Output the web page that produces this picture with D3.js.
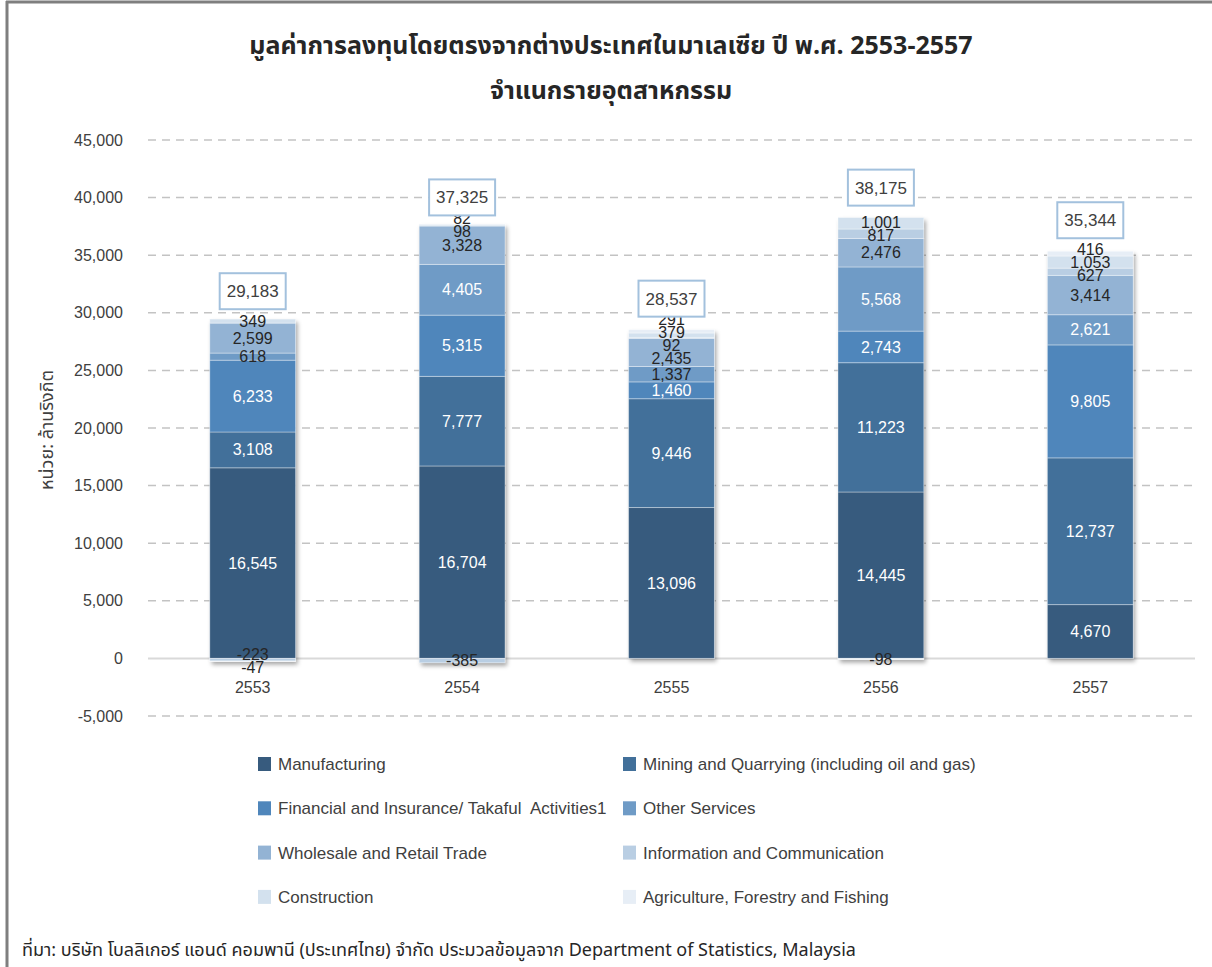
<!DOCTYPE html>
<html>
<head>
<meta charset="utf-8">
<script src="https://cdn.jsdelivr.net/npm/d3@7"></script>
<style>
    body { margin: 0; background: #fff; }
    svg { display: block; font-family: "Liberation Sans", Arial, sans-serif; }
</style>
</head>
<body>
<div id="chart"></div>
<script>
// data (ล้านริงกิต)
const years = ["2553", "2554", "2555", "2556", "2557"];
const seriesNames = [
    "Manufacturing",
    "Mining and Quarrying (including oil and gas)",
    "Financial and Insurance/ Takaful  Activities1",
    "Other Services",
    "Wholesale and Retail Trade",
    "Information and Communication",
    "Construction",
    "Agriculture, Forestry and Fishing"
];
const manufacturing = [16545, 16704, 13096, 14445, 4670];
const mining = [3108, 7777, 9446, 11223, 12737];
const financial = [6233, 5315, 1460, 2743, 9805];
const otherServices = [618, 4405, 1337, 5568, 2621];
const wholesale = [2599, 3328, 2435, 2476, 3414];
const information = [-223, -385, 92, 817, 627];
const construction = [349, 98, 379, 1001, 1053];
const agriculture = [-47, 82, 291, -98, 416];
const totals = [29183, 37325, 28537, 38175, 35344];
const yTicks = [-5000, 0, 5000, 10000, 15000, 20000, 25000, 30000, 35000, 40000, 45000];

const allSeries = [manufacturing, mining, financial, otherServices, wholesale, information, construction, agriculture];
const colors = ["#375b7e", "#42709a", "#4f86bb", "#6f9bc6", "#93b3d4", "#b9cee3", "#d3e1ee", "#e7eef6"];

const width = 1212, height = 967;
const fmt = d3.formatLocale({ decimal: ".", thousands: ",", grouping: [3], currency: ["", ""], minus: "-" }).format(",");

const svg = d3.select("#chart")
    .append("svg")
    .attr("width", width)
    .attr("height", height);

svg.append("rect").attr("width", width).attr("height", height).attr("fill", "#fff");

// frame lines (top + left)
svg.append("line").attr("x1", 6).attr("x2", width).attr("y1", 2).attr("y2", 2)
    .attr("stroke", "#7f7f7f").attr("stroke-width", 3);
svg.append("line").attr("x1", 7).attr("x2", 7).attr("y1", 1).attr("y2", height)
    .attr("stroke", "#7f7f7f").attr("stroke-width", 3);

const defs = svg.append("defs");
const shadow = defs.append("filter").attr("id", "shadow")
    .attr("x", "-10%").attr("y", "-10%").attr("width", "130%").attr("height", "130%");
shadow.append("feDropShadow")
    .attr("dx", 2).attr("dy", 3).attr("stdDeviation", 2)
    .attr("flood-color", "#000").attr("flood-opacity", 0.35);

const thaiFont = "'Noto Sans Thai', 'Noto Sans', 'Liberation Sans', sans-serif";
const latinFont = "'Liberation Sans', Arial, sans-serif";

// titles
svg.append("text")
    .attr("x", 611).attr("y", 54)
    .attr("text-anchor", "middle")
    .style("font-family", thaiFont)
    .style("font-size", "25px").style("font-weight", "bold").style("fill", "#262626")
    .text("มูลค่าการลงทุนโดยตรงจากต่างประเทศในมาเลเซีย ปี พ.ศ. 2553-2557");
svg.append("text")
    .attr("x", 611).attr("y", 99)
    .attr("text-anchor", "middle")
    .style("font-family", thaiFont)
    .style("font-size", "25px").style("font-weight", "bold").style("fill", "#262626")
    .text("จำแนกรายอุตสาหกรรม");

const x = d3.scaleBand()
    .domain(years)
    .range([148, 1195])
    .paddingInner(0.59)
    .paddingOuter(0.295);

const y = d3.scaleLinear()
    .domain([-5000, 45000])
    .range([716, 140]);

// gridlines
svg.append("g")
    .selectAll("line")
    .data(yTicks)
    .enter()
    .append("line")
    .attr("x1", 148).attr("x2", 1195)
    .attr("y1", d => y(d)).attr("y2", d => y(d))
    .attr("stroke", d => d === 0 ? "#d9d9d9" : "#c3c3c3")
    .attr("stroke-width", d => d === 0 ? 2 : 1.5)
    .attr("stroke-dasharray", d => d === 0 ? null : "8,6");

// y axis labels
const yAxis = svg.append("g")
    .attr("transform", "translate(123,0)")
    .call(d3.axisLeft(y).tickValues(yTicks).tickFormat(fmt).tickSize(0).tickPadding(0));
yAxis.select(".domain").remove();
yAxis.selectAll("text")
    .style("font-size", "16px").style("fill", "#404040")
    .style("font-family", latinFont);

svg.append("text")
    .attr("transform", "translate(53,430) rotate(-90)")
    .attr("text-anchor", "middle")
    .style("font-family", thaiFont)
    .style("font-size", "18px").style("fill", "#404040")
    .text("หน่วย: ล้านริงกิต");

// x axis labels
const xAxis = svg.append("g")
    .attr("transform", "translate(0,682)")
    .call(d3.axisBottom(x).tickSize(0).tickPadding(0));
xAxis.select(".domain").remove();
xAxis.selectAll("text")
    .attr("dy", "0.71em")
    .style("font-size", "16px").style("fill", "#404040")
    .style("font-family", latinFont);

// stacked bars
const table = years.map(function (yr, i) {
    const row = { year: yr };
    seriesNames.forEach(function (s, k) { row[s] = allSeries[k][i]; });
    return row;
});

const stacked = d3.stack()
    .keys(seriesNames)
    .order(d3.stackOrderNone)
    .offset(d3.stackOffsetDiverging)(table);

const barGroup = svg.append("g");

// shadow layer: one rect per bar covering its full extent
barGroup.append("g")
    .selectAll("rect")
    .data(table)
    .enter()
    .append("rect")
    .attr("x", d => x(d.year))
    .attr("width", x.bandwidth())
    .attr("y", function (d) {
        const top = d3.max(stacked, s => s[years.indexOf(d.year)][1]);
        return y(top);
    })
    .attr("height", function (d) {
        const i = years.indexOf(d.year);
        const top = d3.max(stacked, s => s[i][1]);
        const bottom = d3.min(stacked, s => s[i][0]);
        return y(bottom) - y(top);
    })
    .attr("fill", "#fff")
    .attr("filter", "url(#shadow)");

barGroup.selectAll(".layer")
    .data(stacked)
    .enter()
    .append("g")
    .attr("class", "layer")
    .attr("fill", (d, k) => colors[k])
    .selectAll("rect")
    .data(d => d)
    .enter()
    .append("rect")
    .attr("x", d => x(d.data.year))
    .attr("width", x.bandwidth())
    .attr("y", d => y(Math.max(d[0], d[1])))
    .attr("height", d => Math.abs(y(d[0]) - y(d[1])))
    .attr("stroke", "rgba(255,255,255,0.35)")
    .attr("stroke-width", 1);

// segment labels, centred, nudged apart where they collide
const labelGroup = svg.append("g")
    .style("font-size", "16px")
    .style("font-family", latinFont)
    .attr("text-anchor", "middle");

years.forEach(function (yr, i) {
    let labels = stacked.map(function (s, k) {
        const v = allSeries[k][i];
        const light = k < 3 || (k === 3 && v >= 2000);
        return { v: v, pos: (y(s[i][0]) + y(s[i][1])) / 2, color: light ? "#ffffff" : "#262626" };
    });
    labels.sort((a, b) => a.pos - b.pos);
    const gap = 13;
    for (let it = 0; it < 80; it++) {
        for (let j = 1; j < labels.length; j++) {
            const d = labels[j].pos - labels[j - 1].pos;
            if (d < gap) {
                const push = (gap - d) / 2;
                labels[j].pos += push;
                labels[j - 1].pos -= push;
            }
        }
    }
    labelGroup.selectAll(null)
        .data(labels)
        .enter()
        .append("text")
        .attr("x", x(yr) + x.bandwidth() / 2)
        .attr("y", d => d.pos)
        .attr("dy", "0.35em")
        .style("fill", d => d.color)
        .text(d => fmt(d.v));
});

// total boxes
const totalGroup = svg.append("g")
    .selectAll("g")
    .data(totals)
    .enter()
    .append("g")
    .attr("transform", (d, i) => "translate(" + (x(years[i]) + x.bandwidth() / 2) + "," + (y(d) - 31) + ")");

totalGroup.append("rect")
    .attr("x", -33).attr("y", -18)
    .attr("width", 66).attr("height", 36)
    .attr("fill", "#fff")
    .attr("stroke", "#a3c1dd")
    .attr("stroke-width", 2);

totalGroup.append("text")
    .attr("text-anchor", "middle")
    .attr("dy", "0.35em")
    .style("font-size", "17px").style("fill", "#404040")
    .style("font-family", latinFont)
    .text(d => fmt(d));

// legend, two columns
const legend = svg.append("g")
    .selectAll("g")
    .data(seriesNames)
    .enter()
    .append("g")
    .attr("transform", (d, k) => "translate(" + (k % 2 === 0 ? 258 : 623) + "," + (764 + Math.floor(k / 2) * 44.3) + ")");

legend.append("rect")
    .attr("x", 0).attr("y", -7)
    .attr("width", 13).attr("height", 14)
    .attr("fill", (d, k) => colors[k]);

legend.append("text")
    .attr("x", 20)
    .attr("dy", "0.35em")
    .style("white-space", "pre")
    .style("font-size", "17px").style("fill", "#404040")
    .style("font-family", latinFont)
    .text(d => d);

// source note
svg.append("text")
    .attr("x", 22).attr("y", 956)
    .style("font-family", thaiFont)
    .style("font-size", "18px").style("fill", "#262626")
    .text("ที่มา: บริษัท โบลลิเกอร์ แอนด์ คอมพานี (ประเทศไทย) จำกัด ประมวลข้อมูลจาก Department of Statistics, Malaysia");
</script>
</body>
</html>
